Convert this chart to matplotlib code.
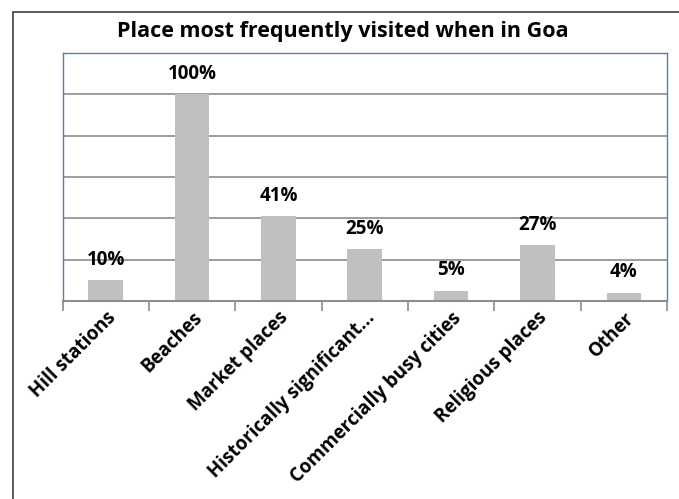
import matplotlib.pyplot as plt
from matplotlib.patches import Rectangle
from matplotlib.transforms import ScaledTranslation
import numpy as np

plt.rcParams['font.family'] = ['Open Sans', 'DejaVu Sans']

categories = ['Hill stations', 'Beaches', 'Market places', 'Historically significant...',
              'Commercially busy cities', 'Religious places', 'Other']
values = [10, 100, 41, 25, 5, 27, 4]
labels = ['10%', '100%', '41%', '25%', '5%', '27%', '4%']

W, H = 679, 499
fig = plt.figure(figsize=(W / 100, H / 100), dpi=100)
ax = fig.add_axes([62.5 / W, 1 - 301 / H, (667 - 62.5) / W, (301 - 53) / H])

x = np.arange(len(categories))
ax.bar(x, values, width=0.4, color='#c0c0c0', zorder=2)
for xi, v, lab in zip(x, values, labels):
    ax.text(xi, v + 5.0, lab, ha='center', va='bottom', fontsize=13.5,
            fontweight='bold', zorder=3)

ax.set_xlim(-0.5, len(categories) - 0.5)
ax.set_ylim(0, 120)
ax.set_yticks(np.arange(0, 121, 20))
ax.tick_params(axis='y', length=0, labelleft=False)
ax.yaxis.grid(True, color='#8c8c8c', linewidth=1.2, zorder=1)

ax.set_xticks(x)
ax.set_xticklabels(categories, rotation=45, ha='right', rotation_mode='anchor',
                   fontsize=13.5, fontweight='bold')
shift = ScaledTranslation(9 / 100, 0, fig.dpi_scale_trans)
for t in ax.get_xticklabels():
    t.set_transform(t.get_transform() + shift)
ax.set_xticks(np.arange(-0.5, len(categories)), minor=True)
ax.tick_params(axis='x', which='major', length=0, pad=5)
ax.tick_params(axis='x', which='minor', length=7, color='#8c8c8c', width=1.2)

for s in ax.spines.values():
    s.set_color('#4f81bd')
    s.set_linewidth(1.0)
ax.spines['bottom'].set_color('#8c8c8c')
ax.spines['bottom'].set_linewidth(1.5)

fig.text(343 / W, 1 - 31 / H, 'Place most frequently visited when in Goa',
         ha='center', va='center', fontsize=15.5, fontweight='bold')

fig.patches.append(Rectangle((12.5 / W, -0.1), 1.2, 1 - 12 / H + 0.1,
                             transform=fig.transFigure, fill=False,
                             edgecolor='#404040', linewidth=1.2))

fig.savefig('out.png', dpi=100)
